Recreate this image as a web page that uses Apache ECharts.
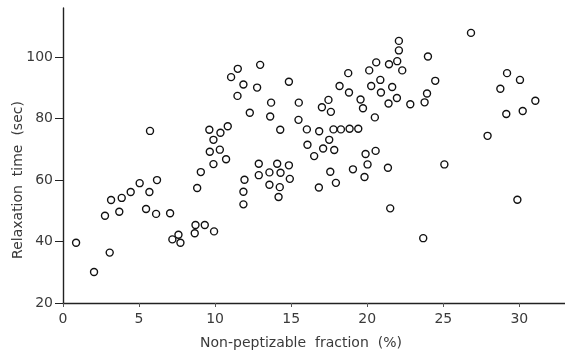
<!DOCTYPE html>
<html>
<head>
<meta charset="utf-8">
<script src="https://cdn.jsdelivr.net/npm/echarts@6/dist/echarts.min.js"></script>
<style>
html,body{margin:0;padding:0;background:#fff;}
#c{width:565px;height:353px;}
</style>
</head>
<body>
<div id="c"></div>
<script>
// Non-peptizable fraction (%)
const fraction = [
  0.86, 2.04, 3.07, 2.76, 3.16, 3.70, 3.86, 4.45, 5.04, 5.46, 5.68, 5.72, 6.18, 6.12, 7.04, 7.19, 7.59, 7.72,
  11.49, 12.96, 11.05, 11.86, 12.76, 14.85, 11.47, 13.68, 15.50, 12.28, 13.62, 15.48, 14.28, 16.03, 16.07,
  10.83, 9.62, 10.35, 9.89, 9.65, 10.31, 9.89, 10.72, 9.06, 8.82, 12.87, 14.08, 14.85, 12.87, 13.57, 14.30,
  14.91, 11.93, 13.57, 14.25, 14.17, 11.86, 11.86, 8.71, 9.32, 8.66, 9.93,
  22.08, 22.08, 23.99, 21.97, 21.43, 20.59, 20.13, 22.30, 18.75, 20.86, 20.26, 21.64, 18.18, 18.80, 20.90,
  21.95, 23.93, 23.77, 22.83, 21.40, 19.56, 19.72, 17.45, 17.02, 17.61, 20.50, 16.84, 17.78, 18.27, 18.84,
  19.41, 17.50, 17.10, 17.83, 16.51, 19.89, 20.55, 20.02, 21.36, 19.06, 17.57, 19.82, 17.94, 16.82, 21.51,
  25.07, 23.68,
  26.82, 24.47, 29.19, 30.04, 28.75, 31.05, 30.22, 29.14, 27.91, 29.87
];
// Relaxation time (sec)
const relaxation = [
  39.6, 30.1, 36.4, 48.4, 53.5, 49.7, 54.2, 56.1, 59.0, 50.6, 56.1, 76.0, 60.0, 49.0, 49.2, 40.7, 42.2, 39.6,
  96.2, 97.5, 93.5, 91.1, 90.1, 92.0, 87.4, 85.2, 85.2, 81.9, 80.7, 79.6, 76.4, 76.5, 71.5,
  77.5, 76.4, 75.4, 73.1, 69.2, 69.9, 65.2, 66.8, 62.6, 57.4, 65.3, 65.3, 64.8, 61.6, 62.5, 62.4,
  60.4, 60.1, 58.5, 57.7, 54.5, 56.2, 52.1, 45.4, 45.4, 42.7, 43.3,
  105.3, 102.2, 100.2, 98.7, 97.7, 98.3, 95.7, 95.7, 94.8, 92.6, 90.6, 90.3, 90.6, 88.5, 88.5,
  86.7, 88.2, 85.3, 84.7, 84.9, 86.2, 83.4, 86.1, 83.7, 82.2, 80.4, 75.9, 76.5, 76.5, 76.7,
  76.7, 73.1, 70.3, 69.8, 67.8, 68.5, 69.5, 65.1, 64.0, 63.5, 62.7, 61.0, 59.1, 57.6, 50.8,
  65.1, 41.1,
  107.9, 92.3, 94.8, 92.6, 89.7, 85.8, 82.5, 81.5, 74.4, 53.6
];
const xTicks = [0, 5, 10, 15, 20, 25, 30];
const yTicks = [20, 40, 60, 80, 100];
const xTitle = 'Non-peptizable  fraction  (%)';
const yTitle = 'Relaxation  time  (sec)';

const points = fraction.map((x, i) => [x, relaxation[i]]);
const chart = echarts.init(document.getElementById('c'), null, {renderer: 'canvas'});
const axisCol = '#222';
const txtCol = '#3a3a3a';
const fam = '"DejaVu Sans"';
chart.setOption({
  animation: false,
  backgroundColor: '#fff',
  grid: {left: 63, right: 0, top: 8, bottom: 50, containLabel: false},
  xAxis: {
    type: 'value', min: 0, max: 33, interval: 5,
    axisLine: {show: true, lineStyle: {color: axisCol, width: 1.4}},
    axisTick: {show: true, length: 4, customValues: xTicks, lineStyle: {color: '#555', width: 1}},
    splitLine: {show: false},
    axisLabel: {
      margin: 9, color: txtCol, fontSize: 14, fontFamily: 'DejaVu Sans',
      customValues: xTicks
    }
  },
  yAxis: {
    type: 'value', min: 20, max: 116, interval: 20,
    axisLine: {show: true, lineStyle: {color: axisCol, width: 1.4}},
    axisTick: {show: true, length: 8, customValues: yTicks, lineStyle: {color: axisCol, width: 1}},
    splitLine: {show: false},
    axisLabel: {
      margin: 10, color: txtCol, fontSize: 14, fontFamily: 'DejaVu Sans',
      customValues: yTicks
    }
  },
  graphic: [
    {type: 'text', x: 301, y: 343, style: {text: xTitle, fill: txtCol, font: '14px ' + fam, textAlign: 'center', textVerticalAlign: 'middle'}},
    {type: 'text', rotation: Math.PI / 2, x: 18, y: 180, style: {text: yTitle, fill: txtCol, font: '14px ' + fam, textAlign: 'center', textVerticalAlign: 'middle'}}
  ],
  series: [{
    type: 'scatter',
    data: points,
    symbol: 'circle',
    symbolSize: 7,
    itemStyle: {color: '#fff', borderColor: '#111', borderWidth: 1.4, opacity: 1}
  }]
});
</script>
</body>
</html>
